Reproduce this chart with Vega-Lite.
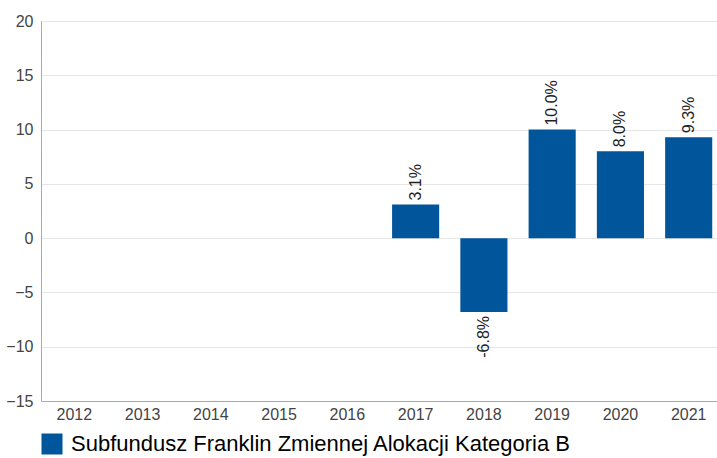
{
  "$schema": "https://vega.github.io/schema/vega-lite/v6.json",
  "width": 681,
  "height": 380,
  "autosize": {"type": "none"},
  "padding": {"left": 41, "top": 21, "right": 0, "bottom": 57},
  "background": "white",
  "config": {"view": {"stroke": null}, "font": "Liberation Sans"},
  "data": {"values": [
    {"year": "2017", "value": 3.1, "label": "3.1%", "series": "Subfundusz Franklin Zmiennej Alokacji Kategoria B"},
    {"year": "2018", "value": -6.8, "label": "-6.8%", "series": "Subfundusz Franklin Zmiennej Alokacji Kategoria B"},
    {"year": "2019", "value": 10.0, "label": "10.0%", "series": "Subfundusz Franklin Zmiennej Alokacji Kategoria B"},
    {"year": "2020", "value": 8.0, "label": "8.0%", "series": "Subfundusz Franklin Zmiennej Alokacji Kategoria B"},
    {"year": "2021", "value": 9.3, "label": "9.3%", "series": "Subfundusz Franklin Zmiennej Alokacji Kategoria B"}
  ]},
  "encoding": {
    "x": {"field": "year", "type": "nominal",
      "scale": {"domain": ["2012","2013","2014","2015","2016","2017","2018","2019","2020","2021"], "paddingInner": 0.31, "paddingOuter": 0.143},
      "axis": {"title": null, "labelAngle": 0, "ticks": false, "labelFontSize": 16, "labelColor": "#444", "labelPadding": 5, "domainColor": "#aaa", "grid": false}},
    "y": {"field": "value", "type": "quantitative",
      "scale": {"domain": [-15, 20], "nice": false},
      "axis": {"title": null, "values": [-15,-10,-5,0,5,10,15,20], "ticks": false, "labelFontSize": 16, "labelColor": "#444", "labelPadding": 8, "domainColor": "#aaa", "gridColor": "#e6e6e6"}}
  },
  "layer": [
    {"mark": {"type": "bar", "color": "#00559b"},
     "encoding": {"color": {"field": "series", "type": "nominal", "scale": {"range": ["#00559b"]},
       "legend": {"title": null, "orient": "none", "legendX": 0, "legendY": 412, "symbolType": "square", "symbolSize": 441, "symbolStrokeWidth": 0, "labelFontSize": 22, "labelColor": "#000", "labelLimit": 700, "labelOffset": 8}}}},
    {"transform": [{"filter": "datum.value >= 0"}],
     "mark": {"type": "text", "angle": -90, "align": "left", "baseline": "middle", "dx": 4, "fontSize": 16, "color": "#222"},
     "encoding": {"text": {"field": "label"}}},
    {"transform": [{"filter": "datum.value < 0"}],
     "mark": {"type": "text", "angle": -90, "align": "right", "baseline": "middle", "dx": -4, "fontSize": 16, "color": "#222"},
     "encoding": {"text": {"field": "label"}}}
  ]
}
